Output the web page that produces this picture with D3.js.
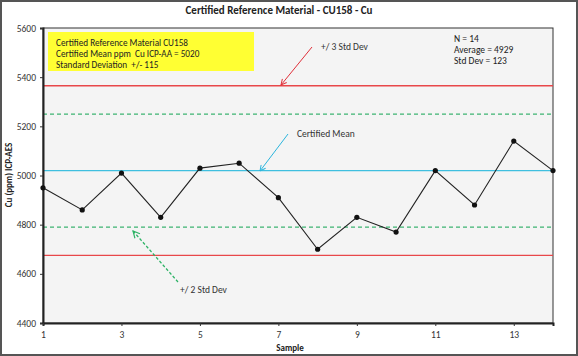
<!DOCTYPE html>
<html><head><meta charset="utf-8">
<script src="https://cdn.jsdelivr.net/npm/d3@7"></script>
<style>body{margin:0;background:#fff}svg{display:block}text{font-family:Carlito,"Open Sans","Noto Sans",sans-serif;white-space:pre}</style>
</head><body><svg id="c" width="578" height="356"></svg>
<script>
const samples = [1,2,3,4,5,6,7,8,9,10,11,12,13,14];
const values = [4950,4860,5010,4830,5030,5050,4910,4700,4830,4770,5020,4880,5140,5020];
const xTicks = [1,3,5,7,9,11,13];
const yTicks = [4400,4600,4800,5000,5200,5400,5600];
const certMean = 5020, certSD = 115;
const infoLines = ["Certified Reference Material CU158","Certified Mean ppm  Cu ICP-AA = 5020","Standard Deviation  +/- 115"];
const statLines = ["N = 14","Average = 4929","Std Dev = 123"];

const svg = d3.select("#c");
const L=43,R=553,T=28,B=323;
const x = d3.scaleLinear().domain([1,14]).range([L,R]);
const y = d3.scaleLinear().domain([4400,5600]).range([B,T]);

svg.append("rect").attr("x",1).attr("y",1).attr("width",576).attr("height",354).attr("fill","#fff").attr("stroke","#555").attr("stroke-width",2);
svg.append("rect").attr("x",L).attr("y",T).attr("width",R-L).attr("height",B-T).attr("fill","#f4f4f4").attr("stroke","#333").attr("stroke-width",1);

svg.append("text").attr("x",279).attr("y",14).attr("text-anchor","middle").attr("font-weight","bold").attr("font-size",11).attr("fill","#222").text("Certified Reference Material - CU158 - Cu");

// limit lines
const lines=[{v:certMean+3*certSD,c:"#e8474a",d:null},{v:certMean-3*certSD,c:"#e8474a",d:null},
{v:certMean+2*certSD,c:"#3cb371",d:"4,3"},{v:certMean-2*certSD,c:"#3cb371",d:"4,3"},{v:certMean,c:"#3fbfdf",d:null}];
lines.forEach(l=>svg.append("line").attr("x1",L).attr("x2",R).attr("y1",y(l.v)).attr("y2",y(l.v)).attr("stroke",l.c).attr("stroke-width",1.3).attr("stroke-dasharray",l.d));

// axes
const ya=svg.append("g").attr("transform",`translate(${L},0)`).call(d3.axisLeft(y).tickValues(yTicks).tickSize(3).tickPadding(4).tickFormat(d3.format("d")));
const xa=svg.append("g").attr("transform",`translate(0,${B})`).call(d3.axisBottom(x).tickValues(xTicks).tickSize(3).tickPadding(5).tickFormat(d3.format("d")));
[ya,xa].forEach(a=>{a.select(".domain").attr("stroke","#222").attr("stroke-width",2);a.selectAll("text").attr("font-size",9.5).attr("fill","#333");a.selectAll(".tick line").attr("stroke","#333");});

svg.append("text").attr("transform","translate(12,175) rotate(-90)").attr("text-anchor","middle").attr("font-weight","bold").attr("font-size",9).attr("fill","#222").text("Cu (ppm) ICP-AES");
svg.append("text").attr("x",290).attr("y",351).attr("text-anchor","middle").attr("font-weight","bold").attr("font-size",9).attr("fill","#222").text("Sample");

// data line
const pts=samples.map((s,i)=>[s,values[i]]);
svg.append("path").datum(pts).attr("fill","none").attr("stroke","#222").attr("stroke-width",1.1).attr("d",d3.line().x(d=>x(d[0])).y(d=>y(d[1])));
svg.selectAll(".pt").data(pts).join("circle").attr("cx",d=>x(d[0])).attr("cy",d=>y(d[1])).attr("r",2.6).attr("fill","#111");

// info box
svg.append("rect").attr("x",48).attr("y",32).attr("width",206).attr("height",39).attr("fill","#ffff33");
infoLines.forEach((t,i)=>svg.append("text").attr("x",56).attr("y",45.5+i*11).attr("font-size",9.2).attr("fill","#222").text(t));
statLines.forEach((t,i)=>svg.append("text").attr("x",454).attr("y",42+i*11).attr("font-size",9.5).attr("fill","#222").text(t));

// annotations
const defs=svg.append("defs");
function arrowHead(id,c){defs.append("marker").attr("id",id).attr("viewBox","0 0 10 10").attr("refX",9).attr("refY",5).attr("markerWidth",7).attr("markerHeight",7).attr("orient","auto").append("path").attr("d","M1,1 L9,5 L1,9").attr("fill","none").attr("stroke",c).attr("stroke-width",1.4);}
arrowHead("ar","#e0303a");arrowHead("ac","#2bb5dd");arrowHead("ag","#2eb366");
svg.append("line").attr("x1",312).attr("y1",47).attr("x2",281).attr("y2",85).attr("stroke","#e0303a").attr("stroke-width",1).attr("marker-end","url(#ar)");
svg.append("text").attr("x",321).attr("y",50).attr("font-size",9.5).attr("fill","#333").text("+/ 3 Std Dev");
svg.append("line").attr("x1",288).attr("y1",134).attr("x2",260).attr("y2",171).attr("stroke","#2bb5dd").attr("stroke-width",1).attr("marker-end","url(#ac)");
svg.append("text").attr("x",297).attr("y",137).attr("font-size",9.5).attr("fill","#333").text("Certified Mean");
svg.append("line").attr("x1",178).attr("y1",282).attr("x2",133).attr("y2",231).attr("stroke","#2eb366").attr("stroke-width",1.2).attr("stroke-dasharray","3,2").attr("marker-end","url(#ag)");
svg.append("text").attr("x",180).attr("y",293).attr("font-size",9.5).attr("fill","#333").text("+/ 2 Std Dev");
</script></body></html>
